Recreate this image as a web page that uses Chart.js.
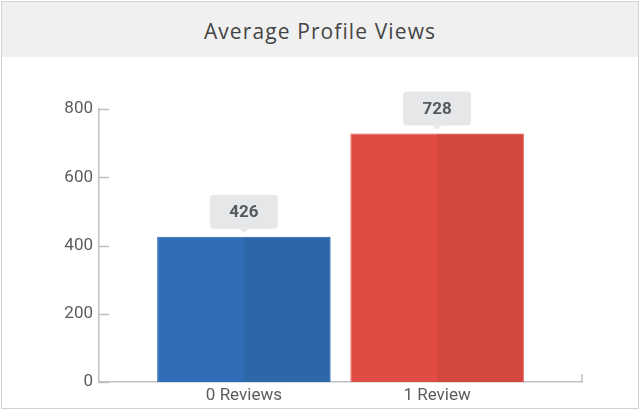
<!DOCTYPE html>
<html><head><meta charset="utf-8">
<script src="https://cdn.jsdelivr.net/npm/chart.js@4/dist/chart.umd.min.js"></script>
<style>
html,body{margin:0;padding:0;background:#fff;width:640px;height:409px;overflow:hidden}
#frame{position:absolute;left:1px;top:1px;width:638px;height:408px;border:1px solid #d2d2d2;box-sizing:border-box;}
#band{height:55px;background:#f0f0f0;display:flex;align-items:center;justify-content:center;font-family:"Open Sans", sans-serif;font-size:21px;letter-spacing:1.1px;color:#444;padding-top:3px;box-sizing:border-box}
#wrap{position:relative;width:636px;height:351px}
</style></head><body>
<div id="frame"><div id="band">Average Profile Views</div><div id="wrap"><canvas id="c"></canvas></div></div>
<script>
const categories = ['0 Reviews', '1 Review'];
const views = [426, 728];
const yTicks = [0, 200, 400, 600, 800];
const barColors = ['#2f6eb6', '#e04c43'];
const barShade = ['#2c67aa', '#d4473e'];
const barEdge = ['#2a63ab', '#dc4a40'];

const axisColor = '#bfbfc6';

const decor = {
  id: 'decor',
  afterDatasetsDraw(chart) {
    const ctx = chart.ctx;
    const meta = chart.getDatasetMeta(0);
    meta.data.forEach((bar, i) => {
      const p = bar.getProps(['x', 'y', 'width', 'base'], true);
      ctx.save();
      ctx.fillStyle = barShade[i];
      ctx.fillRect(p.x, p.y + 1, p.width / 2 - 1, p.base - p.y - 1);
      // value label box
      const w = 68, h = 34, bottom = p.y - 8;
      ctx.fillStyle = '#e6e7e9';
      ctx.beginPath();
      ctx.roundRect(p.x - w / 2, bottom - h, w, h, 4);
      ctx.fill();
      ctx.beginPath();
      ctx.moveTo(p.x - 5, bottom);
      ctx.lineTo(p.x + 5, bottom);
      ctx.lineTo(p.x, bottom + 4);
      ctx.closePath();
      ctx.fill();
      ctx.fillStyle = '#55585d';
      ctx.font = 'bold 17px Roboto';
      ctx.textAlign = 'center';
      ctx.textBaseline = 'middle';
      ctx.fillText(String(views[i]), p.x, bottom - h / 2 + 1);
      ctx.restore();
    });
  },
  afterDraw(chart) {
    const ctx = chart.ctx;
    const a = chart.chartArea;
    const ys = chart.scales.y;
    ctx.save();
    ctx.strokeStyle = axisColor;
    ctx.lineWidth = 1.5;
    ys.ticks.forEach(t => {
      const y = Math.round(ys.getPixelForValue(t.value)) + 0.5;
      ctx.beginPath();
      ctx.moveTo(a.left, y);
      ctx.lineTo(a.left + 10, y);
      ctx.stroke();
    });
    ctx.beginPath();
    ctx.moveTo(a.right, a.bottom);
    ctx.lineTo(a.right, a.bottom - 8);
    ctx.stroke();
    ctx.restore();
  }
};

new Chart(document.getElementById('c'), {
  type: 'bar',
  data: {
    datasets: [{
      data: views.map((v, i) => ({ x: i, y: v })),
      backgroundColor: barColors,
      borderColor: barEdge,
      borderWidth: 1,
      borderSkipped: 'bottom',
      barPercentage: 0.898,
      categoryPercentage: 1
    }]
  },
  options: {
    responsive: true,
    maintainAspectRatio: false,
    devicePixelRatio: 1,
    animation: false,
    layout: { padding: { left: 0, right: 56, top: 52, bottom: 0 } },
    plugins: { legend: { display: false }, tooltip: { enabled: false }, title: { display: false } },
    scales: {
      x: {
        type: 'linear',
        offset: false,
        min: -0.75,
        max: 1.75,
        grid: { display: false, drawTicks: false, offset: false },
        border: { display: true, color: axisColor, width: 1.5 },
        afterBuildTicks: s => { s.ticks = categories.map((c, i) => ({ value: i })); },
        afterFit: s => { s.height = 26; },
        ticks: {
          includeBounds: false,
          stepSize: 1,
          padding: 4,
          color: '#5c5c5c',
          font: { family: 'Roboto', size: 17 },
          callback: v => categories[v] ?? ''
        }
      },
      y: {
        min: 0,
        max: 800,
        grid: { display: false, drawTicks: false },
        border: { display: true, color: axisColor, width: 1.5 },
        afterBuildTicks: s => { s.ticks = yTicks.map(v => ({ value: v })); },
        afterFit: s => { s.width = 97; },
        ticks: {
          padding: 6,
          color: '#5c5c5c',
          font: { family: 'Roboto', size: 17 }
        }
      }
    }
  },
  plugins: [decor]
});
</script>
</body></html>
